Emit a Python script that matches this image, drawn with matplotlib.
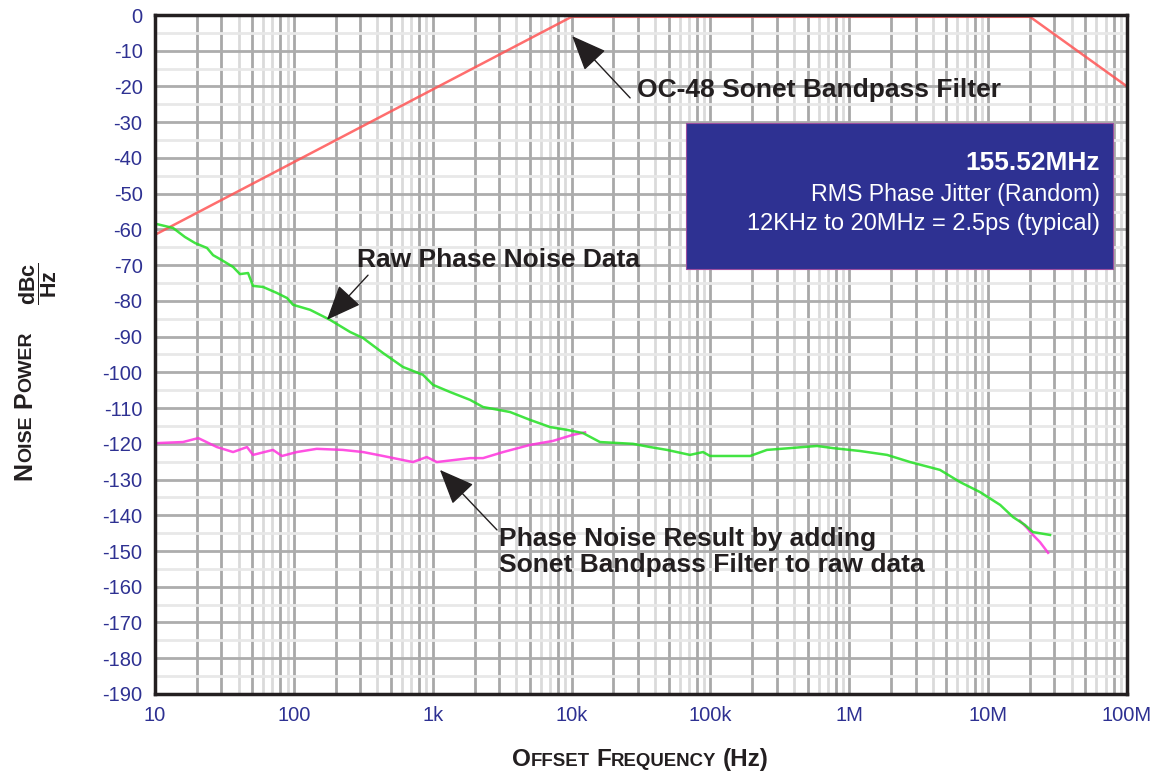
import numpy as np
import matplotlib
matplotlib.use("Agg")
import matplotlib.pyplot as plt
from matplotlib.patches import Rectangle
from matplotlib.transforms import IdentityTransform

plt.rcParams["font.family"] = ["Liberation Sans", "DejaVu Sans"]
plt.rcParams["mathtext.fontset"] = "custom"
plt.rcParams["mathtext.rm"] = "Liberation Sans"
plt.rcParams["mathtext.bf"] = "Liberation Sans:bold"

# --- data ---
filter_freq = [10, 10e3, 20e6, 100e6]
filter_db = [-61.5, -0.5, -0.5, -20.0]

raw_freq = [10.3, 13.5, 16.4, 19.4, 23.7, 26.2, 29.4, 36.5, 40.9, 46.8, 50.8, 60, 75.6,
            89.3, 98.7, 131, 182, 254, 315, 439, 611, 851, 1005, 1332, 1857, 2303, 3604,
            5022, 6998, 9276, 12.1e3, 16.0e3, 27.7e3, 36.7e3, 48.6e3, 71.2e3, 88.4e3,
            99.3e3, 193e3, 255e3, 374e3, 464e3, 586e3, 764e3, 1.19e6, 1.87e6, 2.74e6,
            4.50e6, 6.27e6, 8.73e6, 12.2e6, 15.1e6, 18.4e6, 21.0e6, 27.9e6]
raw_db = [-58.5, -59.6, -62.1, -63.8, -65.2, -67.2, -68.3, -70.5, -72.5, -72.2, -75.8, -76.1,
          -77.8, -79.2, -81.1, -82.5, -85.3, -88.7, -90.4, -94.6, -98.5, -100.7, -103.5,
          -105.5, -107.7, -109.7, -111.1, -113.3, -115.3, -116.1, -117.0, -119.5, -120.0,
          -120.9, -121.7, -123.1, -122.3, -123.4, -123.4, -121.7, -121.2, -120.9, -120.6,
          -121.2, -122.0, -123.1, -125.1, -127.3, -130.7, -133.5, -137.1, -140.5, -142.7,
          -144.7, -145.5]

result_low_freq = [10.3, 15.9, 20.5, 27.9, 36.5, 46.0, 50.8, 70.7, 82.1, 105, 146, 225, 315,
                   439, 719, 905, 1070, 1857, 2303, 3216, 5022, 7319, 10.2e3, 12.5e3]
result_low_db = [-119.8, -119.5, -118.4, -120.9, -122.3, -120.9, -123.1, -121.7, -123.4,
                 -122.3, -121.4, -121.7, -122.3, -123.4, -125.1, -123.7, -125.1, -124.0,
                 -124.0, -122.3, -120.3, -119.2, -117.5, -116.8]
result_high_freq = [16.9e6, 19.0e6, 21.0e6, 23.6e6, 27.0e6]
result_high_db = [-141.5, -143.5, -145.5, -147.5, -150.5]

x_ticks = [10, 100, 1e3, 1e4, 1e5, 1e6, 1e7, 1e8]
x_labels = ["10", "100", "1k", "10k", "100k", "1M", "10M", "100M"]
y_ticks = list(range(-190, 1, 10))

BLUE = "#2e3192"
INK = "#231f20"

fig = plt.figure(figsize=(11.55, 7.74), dpi=100)
ax = fig.add_axes([0.1342, 0.1034, 0.8416, 0.8772])
ax.set_xscale("log")
ax.set_xlim(10, 1e8)
ax.set_ylim(-190, 0)

# grid
dark = {1: True, 2: True, 3: True, 4: False, 5: True, 6: False, 7: False, 8: True, 9: False}
for dec in range(1, 8):
    for m in range(1, 10):
        f = m * 10 ** dec
        if f <= 10 or f >= 1e8:
            continue
        c = "#a8a8a8" if dark[m] else "#dadada"
        ax.axvline(f, color=c, lw=2, zorder=1)
for v in range(-185, 0, 10):
    ax.axhline(v, color="#e8e8e8", lw=2, zorder=1.5)
for v in y_ticks[1:-1]:
    ax.axhline(v, color="#adadad", lw=2, zorder=1.5)

ax.plot(filter_freq, filter_db, color="#ff5555", lw=1.8, alpha=0.85, zorder=3)
ax.plot(result_low_freq, result_low_db, color="#ff33dd", lw=1.8, alpha=0.85, zorder=3)
ax.plot(result_high_freq, result_high_db, color="#ff33dd", lw=1.8, alpha=0.85, zorder=3)
ax.plot(raw_freq, raw_db, color="#22e022", lw=1.8, alpha=0.85, zorder=4)

ax.set_xticks(x_ticks)
ax.set_xticklabels(x_labels)
ax.xaxis.set_minor_locator(matplotlib.ticker.NullLocator())
ax.set_yticks(y_ticks)
ax.set_yticklabels([str(v) for v in y_ticks])
ax.tick_params(length=0, labelsize=14.5, labelcolor=BLUE)
ax.tick_params(axis="x", pad=9)
ax.tick_params(axis="y", pad=9)
for s in ax.spines.values():
    s.set_linewidth(2.5)
    s.set_color(INK)
    s.set_zorder(6)

# info box
ax.add_patch(Rectangle((0.5463, 0.626), 0.4393, 0.215, transform=ax.transAxes,
                       fc=BLUE, ec="#9b4ea0", lw=0.8, zorder=5))
ax.text(0.9722, 0.782, "155.52MHz", transform=ax.transAxes, ha="right", va="center",
        color="white", fontsize=19, fontweight="bold", zorder=6)
ax.text(0.9722, 0.735, "RMS Phase Jitter (Random)", transform=ax.transAxes, ha="right",
        va="center", color="white", fontsize=16.7, zorder=6)
ax.text(0.9722, 0.692, "12KHz to 20MHz = 2.5ps (typical)", transform=ax.transAxes,
        ha="right", va="center", color="white", fontsize=17, zorder=6)

# annotations
arrow = dict(arrowstyle="-|>,head_length=1.1,head_width=0.46", mutation_scale=20,
             color=INK, lw=1, shrinkA=0, shrinkB=0)
ax.annotate("", xy=(10.1e3, -5.9), xytext=(26.4e3, -23.2), arrowprops=arrow, zorder=7)
ax.text(29.6e3, -21, "OC-48 Sonet Bandpass Filter", fontsize=19, fontweight="bold",
        va="center", ha="left", color=INK, zorder=7)
ax.annotate("", xy=(173, -85.3), xytext=(342, -72.8), arrowprops=arrow, zorder=7)
ax.text(285, -68.6, "Raw Phase Noise Data", fontsize=19, fontweight="bold",
        va="center", ha="left", color=INK, zorder=7)
ax.annotate("", xy=(1127, -127.3), xytext=(2904, -144.1), arrowprops=arrow, zorder=7)
ax.text(3000, -150.2, "Phase Noise Result by adding\nSonet Bandpass Filter to raw data",
        fontsize=19, fontweight="bold", va="center", ha="left", color=INK,
        linespacing=1.1, zorder=7)

# small-caps axis labels
renderer = fig.canvas.get_renderer()


def small_caps(x, y, parts, rotation=0):
    for p in parts:
        if isinstance(p, (int, float)):
            if rotation:
                y += p
            else:
                x += p
            continue
        s, size = p
        t = fig.text(x, y, s, transform=IdentityTransform(), fontsize=size,
                     fontweight="bold", color=INK, ha="left", va="baseline",
                     rotation=rotation, rotation_mode="anchor")
        bb = t.get_window_extent(renderer)
        if rotation:
            y += bb.height
        else:
            x += bb.width


small_caps(512, 8, [("O", 17.5), ("FFSET", 13.4), 6, ("F", 17.5), ("REQUENCY", 13.4), 6,
                    ("(Hz)", 17.5)])
small_caps(31, 294, [("N", 18), ("OISE", 14), 7, ("P", 18), ("OWER", 14)],
           rotation=90)
fig.text(38, 490, r"$\mathbf{\dfrac{dBc}{Hz}}$", transform=IdentityTransform(),
         fontsize=15.5, rotation=90, ha="center", va="center", color=INK)

fig.savefig("out.png", dpi=100)
